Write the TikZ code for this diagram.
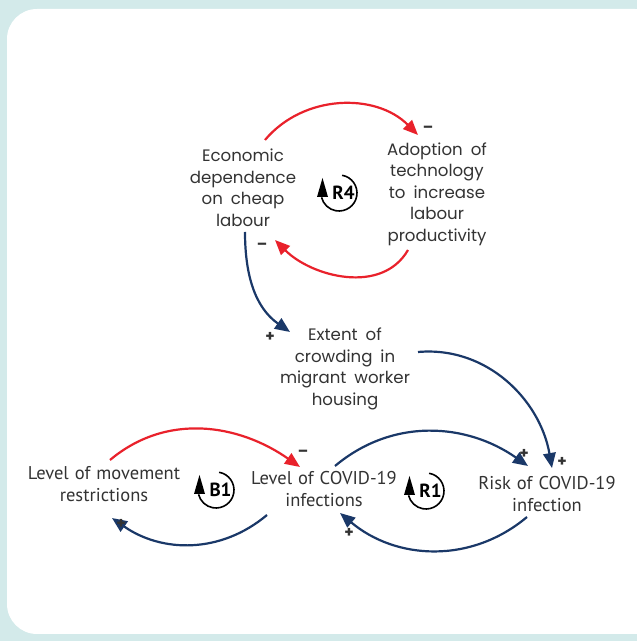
\documentclass[tikz,border=0pt]{standalone}
\usepackage{fontspec}
\setmainfont{Poppins}
\newfontfamily\botfont{PT Sans}
\usetikzlibrary{arrows.meta,calc}
\definecolor{bg}{HTML}{D3EAEA}
\definecolor{cred}{HTML}{E9212B}
\definecolor{cblue}{HTML}{1A3868}
\definecolor{ctext}{HTML}{333333}
\newcommand\mywidesp{\spaceskip=8pt plus 1pt\relax}
\newcommand\mybotsp{\spaceskip=6pt plus 1pt\relax}
\begin{document}
\begin{tikzpicture}[x=1pt,y=1pt,
  var/.style={align=center,inner sep=0pt,text=ctext,font=\fontsize{16.6}{21.5}\selectfont\mywidesp},
  botvar/.style={align=center,inner sep=0pt,text=ctext,font=\botfont\fontsize{18.5}{21.5}\selectfont\mybotsp},
  sign/.style={inner sep=0pt,text=ctext,font=\bfseries\fontsize{15}{15}\selectfont},
  redarr/.style={draw=cred,line width=2.2pt,-{Triangle[length=15pt,width=12.5pt]}},
  bluearr/.style={draw=cblue,line width=2.2pt,-{Triangle[length=15pt,width=12.5pt]}},
  looplab/.style={inner sep=0pt,text=black,font=\botfont\bfseries\fontsize{19}{19}\selectfont},
  looparc/.style={draw=black,line width=1.6pt},
  loophead/.style={fill=black}]
\useasboundingbox (0,0) rectangle (637,641);
\clip (0,0) rectangle (637,641);
\fill[bg] (0,0) rectangle (637,641);
\fill[white,rounded corners=30pt] (7,7) rectangle (665,632);

% nodes
\node[var] (econ) at (243,453) {Economic\\dependence\\on cheap\\labour};
\node[var] (adopt) at (437,447) {Adoption of\\technology\\to increase\\labour\\productivity};
\node[var] (extent) at (345,272) {Extent of\\crowding in\\migrant worker\\housing};
\node[botvar] (move) at (104,157) {Level of movement\\restrictions};
\node[botvar] (covid) at (324,152) {Level of COVID-19\\infections};
\node[botvar] (risk) at (547,147) {Risk of COVID-19\\infection};

% loop symbols
\foreach \nm/\lab/\cx/\cy in {r4/R4/339/448, b1/B1/216/151, r1/R1/426/150}{
  \coordinate (\nm c) at (\cx,\cy);
  \node[looplab] (\nm) at ($(\nm c)+(4.5,0)$) {\lab};
  \draw[looparc] (\nm c) ++(80:18) arc (80:-166:18);
  \fill[loophead] ($(\nm c)+(-22,-4)$) -- ($(\nm c)+(-11,-4)$) -- ($(\nm c)+(-16.5,15)$) -- cycle;
}

% connectors
\draw[redarr] ([shift={(22,48)}]econ.center) to[out=50,in=135] ([shift={(-19,59)}]adopt.center);
\draw[redarr] ([shift={(-29,-56)}]adopt.center) to[out=-120,in=-45] ([shift={(32,-52)}]econ.center);
\draw[bluearr] ([shift={(2,-44)}]econ.center) to[out=-90,in=145] ([shift={(-55,37)}]extent.center);
\draw[bluearr] ([shift={(73,17)}]extent.center) to[out=5,in=100] ([shift={(5,26)}]risk.center);
\draw[redarr] ([shift={(6,24)}]move.center) to[out=40,in=145] ([shift={(-24,22)}]covid.center);
\draw[bluearr] ([shift={(-57,-26)}]covid.center) to[out=-140,in=-35] ([shift={(8,-34)}]move.center);
\draw[bluearr] ([shift={(11,23)}]covid.center) to[out=40,in=145] ([shift={(-19,28)}]risk.center);
\draw[bluearr] ([shift={(-20,-23)}]risk.center) to[out=-140,in=-40] ([shift={(16,-24)}]covid.center);

% polarity signs
\node[sign] (s1) at (428,512) {--};
\node[sign] (s2) at (262,395) {--};
\node[sign] (s3) at (270,304) {+};
\node[sign] (s4) at (562,179) {+};
\node[sign] (s5) at (303,188) {--};
\node[sign] (s6) at (121,117) {+};
\node[sign] (s7) at (524,187) {+};
\node[sign] (s8) at (349,108) {+};
\end{tikzpicture}
\end{document}
